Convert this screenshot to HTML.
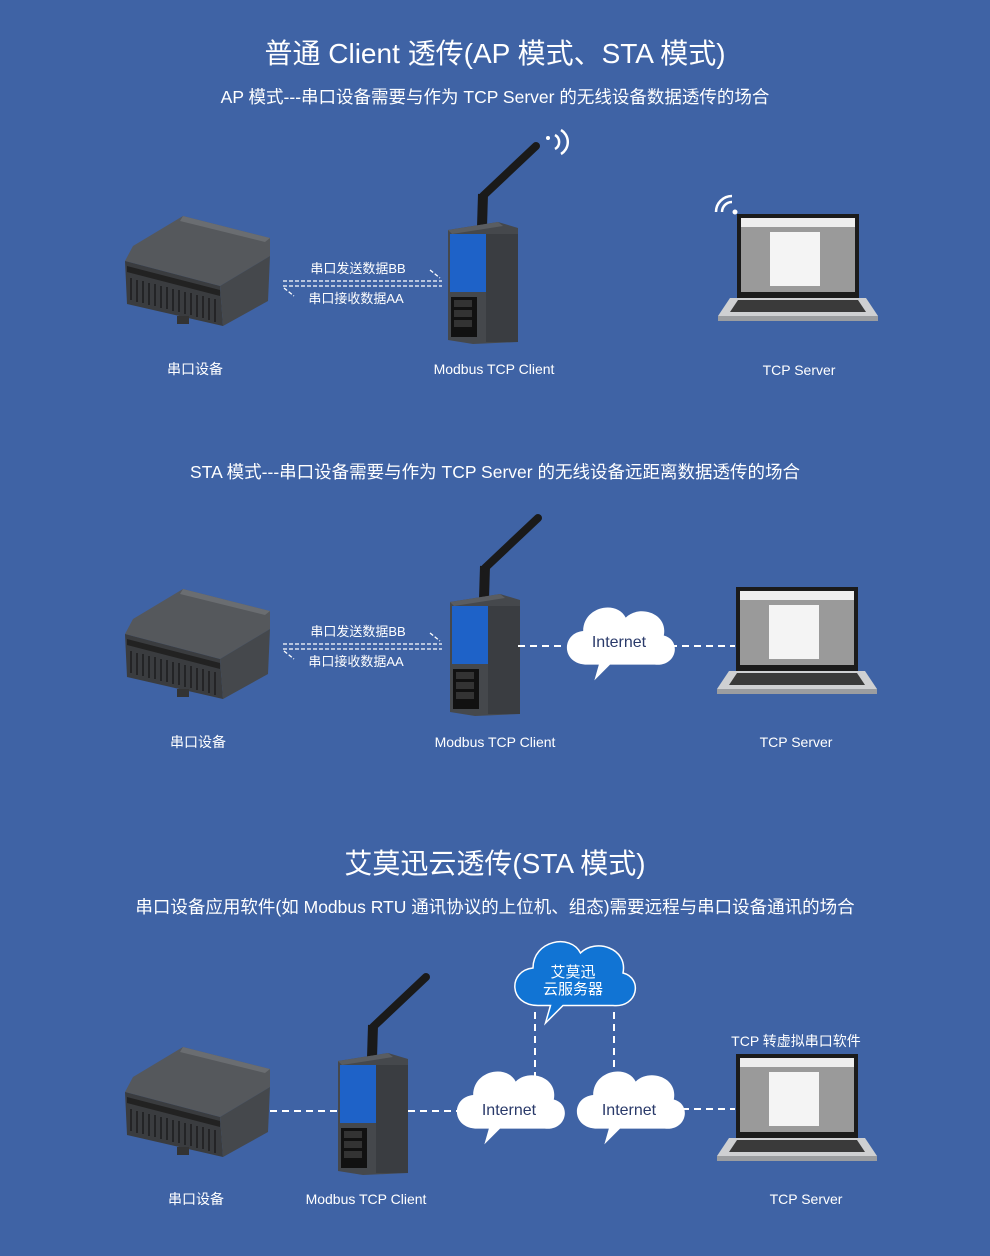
<!DOCTYPE html>
<html><head><meta charset="utf-8"><style>
html,body{margin:0;padding:0;background:#3f63a5;}
svg{display:block}
text{font-family:"Liberation Sans","Noto Sans CJK SC",sans-serif;fill:#fff}
</style></head><body>
<svg width="990" height="1256" viewBox="0 0 990 1256" xmlns="http://www.w3.org/2000/svg">
<defs>
<g id="plc">
  <polygon points="8,30 58,0 145,22 145,40 95,70 0,45" fill="#55585c"/>
  <polygon points="58,0 145,22 140,26 55,5" fill="#6a6d71"/>
  <polygon points="0,45 95,70 98,110 2,88" fill="#3a3c3f"/>
  <polygon points="95,70 145,40 143,85 98,110" fill="#45484c"/>
  <polygon points="2,50 95,74 95,80 2,56" fill="#222"/>
  <g stroke="#1e1f21" stroke-width="1.6">
    <line x1="6" y1="62" x2="6" y2="84"/><line x1="12" y1="64" x2="12" y2="86"/><line x1="18" y1="65" x2="18" y2="87"/><line x1="24" y1="67" x2="24" y2="89"/><line x1="30" y1="68" x2="30" y2="90"/><line x1="36" y1="70" x2="36" y2="92"/><line x1="42" y1="71" x2="42" y2="93"/><line x1="48" y1="73" x2="48" y2="95"/><line x1="54" y1="74" x2="54" y2="96"/><line x1="60" y1="76" x2="60" y2="98"/><line x1="66" y1="77" x2="66" y2="99"/><line x1="72" y1="79" x2="72" y2="101"/><line x1="78" y1="80" x2="78" y2="102"/><line x1="84" y1="82" x2="84" y2="104"/><line x1="90" y1="83" x2="90" y2="106"/>
  </g>
  <rect x="52" y="100" width="12" height="8" fill="#333"/>
</g>
<g id="dev">
  <line x1="34" y1="5" x2="35" y2="-28" stroke="#1a1a1a" stroke-width="10"/>
  <line x1="35" y1="-26" x2="88" y2="-76" stroke="#1a1a1a" stroke-width="8" stroke-linecap="round"/>
  <polygon points="0,8 50,0 70,6 70,120 25,122 0,118" fill="#45484c"/>
  <polygon points="0,8 50,0 55,4 4,12" fill="#5a5d61"/>
  <rect x="2" y="12" width="36" height="58" fill="#1e62c8"/>
  <rect x="3" y="75" width="26" height="40" fill="#111"/>
  <g fill="#333"><rect x="6" y="78" width="18" height="7"/><rect x="6" y="88" width="18" height="7"/><rect x="6" y="98" width="18" height="7"/></g>
  <rect x="38" y="12" width="32" height="108" fill="#3a3d41"/>
</g>
<g id="lap">
  <rect x="19" y="0" width="122" height="84" fill="#1b1b1b"/>
  <rect x="23" y="4" width="114" height="74" fill="#9a9a9a"/>
  <rect x="23" y="4" width="114" height="9" fill="#eee"/>
  <rect x="52" y="18" width="50" height="54" fill="#f4f4f4"/>
  <polygon points="12,84 148,84 160,102 0,102" fill="#cfd0d2"/>
  <polygon points="20,86 140,86 148,98 12,98" fill="#3a3a3a"/>
  <rect x="0" y="102" width="160" height="5" fill="#9b9da0"/>
</g>
<path id="cloud" transform="scale(1.12)" d="M-28,22 C-52,22 -52,-6 -32,-8 C-32,-30 -2,-36 6,-20 C18,-32 44,-24 40,-4 C56,0 52,24 32,22 L-8,22 L-22,36 L-18,22 Z" fill="#fff"/>
</defs>

<!-- Section 1 -->
<text x="495" y="63" font-size="28" text-anchor="middle">普通 Client 透传(AP 模式、STA 模式)</text>
<text x="495" y="103" font-size="17.5" text-anchor="middle">AP 模式---串口设备需要与作为 TCP Server 的无线设备数据透传的场合</text>
<use href="#plc" x="125" y="216"/>
<use href="#dev" x="448" y="222"/>
<g fill="none" stroke="#fff" stroke-width="2.5"><path d="M555,135 a8,8 0 0 1 0,14"/><path d="M561,130 a14,14 0 0 1 0,24"/></g>
<circle cx="548" cy="138" r="2" fill="#fff"/>
<use href="#lap" x="718" y="214"/>
<g fill="none" stroke="#fff" stroke-width="2.5"><path d="M716,212 a16,16 0 0 1 16,-16"/><path d="M722,212 a10,10 0 0 1 10,-10"/></g>
<circle cx="735" cy="212" r="2.5" fill="#fff"/>
<g stroke="#fff" stroke-width="1.3" stroke-dasharray="4,2" fill="none"><line x1="283" y1="281" x2="442" y2="281"/><line x1="283" y1="286" x2="442" y2="286"/><line x1="430" y1="270" x2="440" y2="278"/><line x1="284" y1="288" x2="294" y2="296"/></g>
<text x="358" y="273" font-size="13" text-anchor="middle">串口发送数据BB</text>
<text x="356" y="303" font-size="13" text-anchor="middle">串口接收数据AA</text>
<text x="195" y="374" font-size="14" text-anchor="middle">串口设备</text>
<text x="494" y="374" font-size="14" text-anchor="middle">Modbus TCP Client</text>
<text x="799" y="375" font-size="14" text-anchor="middle">TCP Server</text>

<!-- Section 2 -->
<text x="495" y="478" font-size="17.5" text-anchor="middle">STA 模式---串口设备需要与作为 TCP Server 的无线设备远距离数据透传的场合</text>
<use href="#plc" x="125" y="589"/>
<use href="#dev" x="450" y="594"/>
<g stroke="#fff" stroke-width="2" stroke-dasharray="7,5"><line x1="518" y1="646" x2="566" y2="646"/><line x1="670" y1="646" x2="735" y2="646"/></g>
<use href="#cloud" x="619" y="640"/>
<text x="619" y="647" font-size="16" text-anchor="middle" style="fill:#2a3a6a">Internet</text>
<use href="#lap" x="717" y="587"/>
<g stroke="#fff" stroke-width="1.3" stroke-dasharray="4,2" fill="none"><line x1="283" y1="644" x2="442" y2="644"/><line x1="283" y1="649" x2="442" y2="649"/><line x1="430" y1="633" x2="440" y2="641"/><line x1="284" y1="651" x2="294" y2="659"/></g>
<text x="358" y="636" font-size="13" text-anchor="middle">串口发送数据BB</text>
<text x="356" y="666" font-size="13" text-anchor="middle">串口接收数据AA</text>
<text x="198" y="747" font-size="14" text-anchor="middle">串口设备</text>
<text x="495" y="747" font-size="14" text-anchor="middle">Modbus TCP Client</text>
<text x="796" y="747" font-size="14" text-anchor="middle">TCP Server</text>

<!-- Section 3 -->
<text x="495" y="873" font-size="28" text-anchor="middle">艾莫迅云透传(STA 模式)</text>
<text x="495" y="913" font-size="17.5" text-anchor="middle">串口设备应用软件(如 Modbus RTU 通讯协议的上位机、组态)需要远程与串口设备通讯的场合</text>
<g stroke="#fff" stroke-width="2" stroke-dasharray="7,5"><line x1="270" y1="1111" x2="338" y2="1111"/><line x1="408" y1="1111" x2="458" y2="1111"/><line x1="682" y1="1109" x2="735" y2="1109"/><line x1="535" y1="1012" x2="535" y2="1080"/><line x1="614" y1="1012" x2="614" y2="1078"/></g>
<path d="M-28,22 C-52,22 -52,-6 -32,-8 C-32,-30 -2,-36 6,-20 C18,-32 44,-24 40,-4 C56,0 52,24 32,22 L-8,22 L-22,36 L-18,22 Z" transform="translate(573,978) scale(1.25)" fill="#1174d4" stroke="#fff" stroke-width="1.2"/>
<text x="573" y="977" font-size="15" text-anchor="middle">艾莫迅</text>
<text x="573" y="994" font-size="15" text-anchor="middle">云服务器</text>
<use href="#plc" x="125" y="1047"/>
<use href="#dev" x="338" y="1053"/>
<use href="#cloud" x="509" y="1104"/>
<use href="#cloud" x="629" y="1104"/>
<text x="509" y="1115" font-size="16" text-anchor="middle" style="fill:#2a3a6a">Internet</text>
<text x="629" y="1115" font-size="16" text-anchor="middle" style="fill:#2a3a6a">Internet</text>
<use href="#lap" x="717" y="1054"/>
<text x="796" y="1046" font-size="14" text-anchor="middle">TCP 转虚拟串口软件</text>
<text x="196" y="1204" font-size="14" text-anchor="middle">串口设备</text>
<text x="366" y="1204" font-size="14" text-anchor="middle">Modbus TCP Client</text>
<text x="806" y="1204" font-size="14" text-anchor="middle">TCP Server</text>
</svg>
</body></html>
